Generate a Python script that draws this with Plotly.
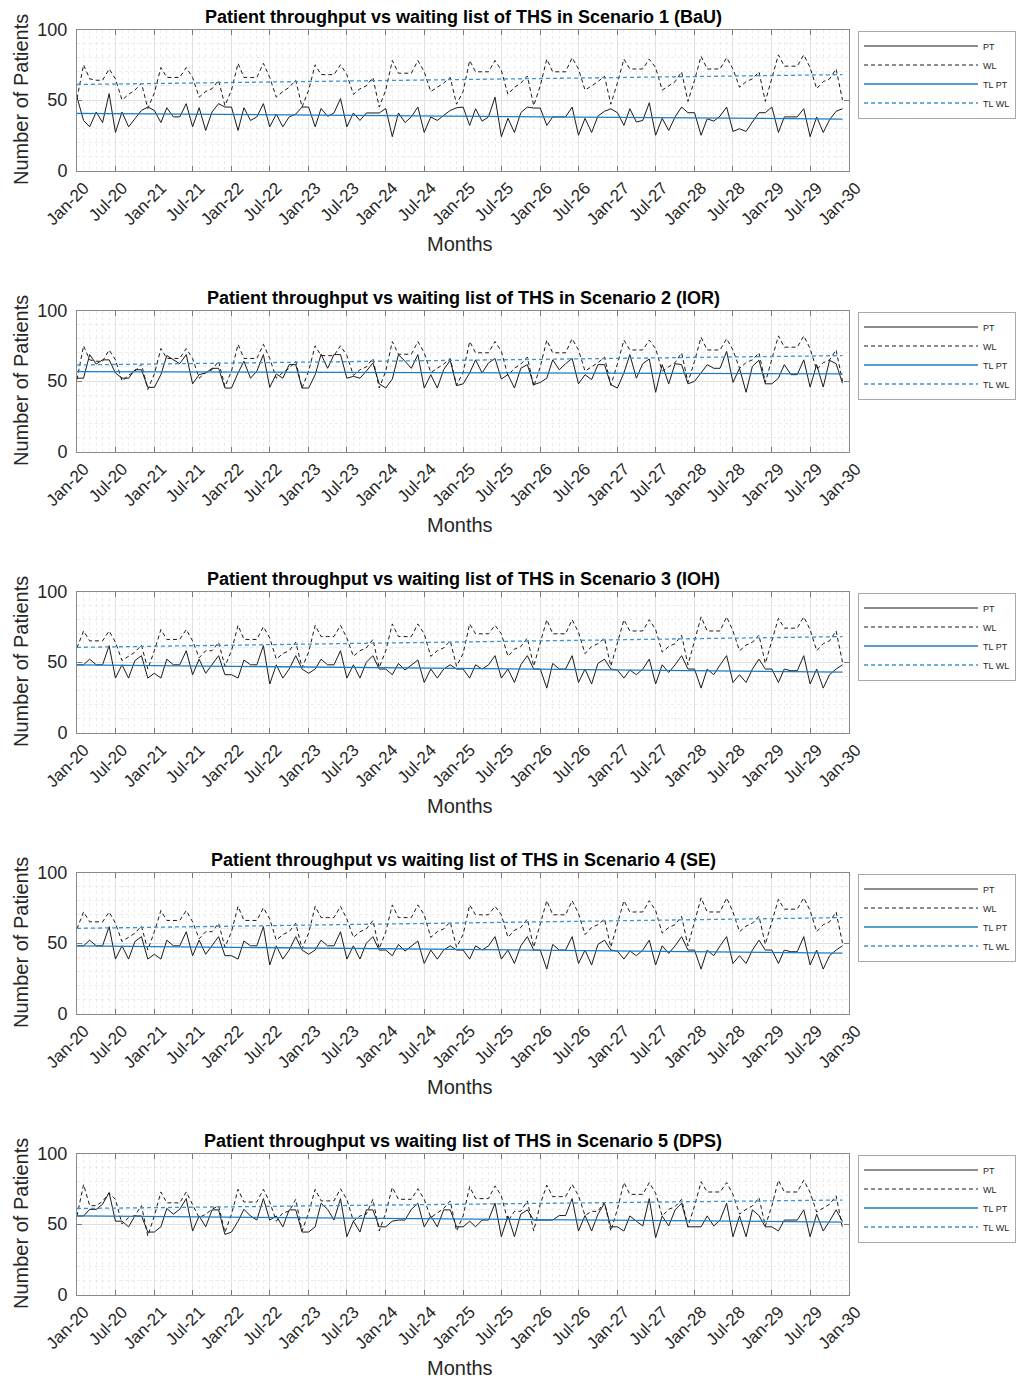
import plotly.graph_objects as go
import pandas as pd

# ---------------- data ----------------
MONTHS = pd.date_range("2020-01-01", periods=120, freq="MS")

SCENARIO_TITLES = [
    "Patient throughput vs waiting list of THS in Scenario 1 (BaU)",
    "Patient throughput vs waiting list of THS in Scenario 2 (IOR)",
    "Patient throughput vs waiting list of THS in Scenario 3 (IOH)",
    "Patient throughput vs waiting list of THS in Scenario 4 (SE)",
    "Patient throughput vs waiting list of THS in Scenario 5 (DPS)",
]

PT_S1 = [52, 35.5, 31, 41.5, 34, 54.5, 27, 41.5, 31, 37, 42.6, 45,
         42.6, 34, 44.5, 38, 38, 47.4, 31, 44.5, 28.4, 41.5, 47.4, 45,
         45, 28.4, 44.5, 35.5, 38, 47.4, 31, 40, 31, 38, 40, 45,
         45, 31, 44, 38.4, 40.8, 51, 31, 40.8, 35.5, 40.8, 40.8, 40.8,
         44, 24, 40.8, 34, 38, 45, 27, 38, 35.5, 39, 42.6, 44.5,
         45, 32, 43.8, 35, 38, 52, 24, 37, 27, 41, 45, 44.3,
         44.3, 32, 38, 38, 38, 45, 25, 37, 27, 38.6, 42, 43.8,
         41, 32, 43.8, 34.4, 35.5, 48, 25, 37, 28.4, 38, 45, 41,
         41, 25, 36.7, 35, 38.6, 45, 27.7, 29.6, 27.7, 34.4, 41, 41,
         45, 27, 38, 38, 38, 43.8, 24, 38, 27, 36, 42, 43.8]

PT_S2 = [52, 52, 68.7, 62, 65, 65, 55.7, 52, 52, 58, 58, 45.5,
         45.5, 54.5, 68, 65, 62.3, 68.7, 48, 54.5, 55.7, 59, 59, 45,
         45, 55.7, 64, 52, 57, 68.7, 45.5, 55, 52, 61.6, 61.6, 45,
         45, 54.5, 69, 59, 68.7, 68.7, 52, 53.3, 52, 57, 62.8, 48,
         45, 51.4, 68.7, 64, 59, 68.7, 45, 54.5, 45, 58, 64.7, 46.7,
         48, 55.7, 65, 55.7, 62.8, 66, 51.4, 54.5, 45, 59, 61.6, 47.4,
         49, 52, 65, 58, 62.3, 66, 48, 54.5, 51, 61.6, 61.6, 47.4,
         45, 55.7, 68.7, 52, 62.3, 65.6, 42, 61.6, 48, 62.3, 61.6, 48,
         49.8, 55.7, 61.6, 59, 59, 71, 49, 59, 42, 60.4, 64.7, 48,
         48, 52, 61.6, 54.5, 54.5, 65, 45.7, 61.6, 45.7, 64.7, 62.3, 48.6]

PT_S3 = [48, 48, 52, 48, 48, 61.6, 38.6, 48, 38.6, 51, 54.5, 38.6,
         42, 38.6, 52, 48, 48, 58, 41, 52, 42, 48, 54.5, 41,
         41, 38.6, 51.4, 48, 48, 61.6, 34.4, 48, 38.6, 45, 54.5, 45,
         42, 45, 52, 48, 48, 58, 38.6, 48, 38.6, 49.8, 54.5, 45,
         45, 41, 49, 44.3, 48, 51.4, 35.5, 45, 38.6, 45, 48, 45,
         45, 38.6, 48, 45, 48, 54.5, 38.6, 45, 35.5, 48, 54.5, 45,
         45, 31.5, 49, 45, 45, 54.5, 35.5, 45, 34.4, 49, 52, 45,
         44.3, 38.6, 44.3, 41, 45, 52, 34.4, 48, 42.6, 48, 54.5, 45,
         45, 31.5, 45, 41, 48, 54.5, 35.5, 41, 35.5, 45, 52, 45,
         45, 35.5, 45, 43.8, 43.8, 54.5, 34.4, 45, 31.5, 41, 45, 48]

PT_S4 = PT_S3

PT_S5 = [55.7, 55.7, 60.4, 60.4, 64, 72.3, 52, 52, 48, 55.7, 55.7, 44.3,
         44.3, 48, 61, 57, 60.4, 68, 45, 55.7, 48, 60, 60, 42.6,
         44.3, 52, 60.4, 55.7, 52.8, 68, 52.8, 55.7, 48, 60, 60, 44.3,
         44.3, 48, 64.7, 60.4, 52.8, 68, 41, 52, 44.3, 60, 60, 48,
         48, 52, 52.8, 52.8, 60.4, 64.7, 48, 55.7, 48, 60, 60, 48,
         48, 52, 48, 52.8, 52.8, 64.7, 41, 55.7, 41, 57, 60, 52.8,
         52.8, 52.8, 52.8, 56, 56, 68, 45, 56, 45, 57, 64.7, 48,
         48, 45, 55.7, 52, 48.6, 68, 40.3, 55.7, 48.6, 60, 64.7, 48,
         48, 48, 55.7, 48.6, 52.8, 64.7, 41, 55.7, 41, 60, 56, 48,
         48, 45, 52.8, 52.8, 52.8, 60, 41, 57, 45, 52, 60, 52]

WL_S1 = [51, 75, 65, 64, 64, 72, 65, 50, 54, 57, 62, 44,
         55, 73, 66, 66, 66, 73, 66, 52, 56, 58, 64, 46,
         57, 76, 66, 66, 66, 76, 66, 52, 56, 59, 64, 45,
         57, 75, 68, 68, 68, 75, 68, 54, 58, 60, 66, 45,
         57, 78, 69, 69, 69, 78, 70, 56, 59, 62, 66, 47,
         56, 78, 70, 70, 70, 78, 71, 54, 59, 62, 67, 46,
         60, 79, 70, 70, 70, 80, 72, 57, 60, 63, 67, 47,
         62, 79, 72, 72, 72, 79, 73, 57, 60, 63, 70, 49,
         64, 81, 72, 72, 72, 80, 72, 59, 63, 65, 70, 49,
         65, 82, 74, 74, 74, 82, 73, 58, 63, 65, 72, 50]

WL_S2 = WL_S1

WL_S3 = [60, 72, 65, 65, 65, 72, 64, 51, 54, 57, 62, 45,
         58, 73, 66, 66, 66, 73, 65, 53, 58, 58, 64, 47,
         58, 76, 66, 66, 66, 75, 67, 52, 56, 58, 64, 46,
         57, 76, 68, 68, 68, 76, 67, 54, 58, 60, 66, 46,
         58, 77, 68, 68, 68, 77, 70, 54, 58, 60, 65, 47,
         56, 77, 70, 70, 70, 76, 70, 54, 59, 61, 67, 47,
         64, 80, 70, 70, 70, 80, 71, 56, 61, 63, 67, 47,
         64, 80, 72, 72, 72, 80, 73, 57, 61, 63, 69, 48,
         65, 82, 72, 72, 72, 82, 72, 58, 62, 64, 69, 49,
         65, 81, 74, 74, 74, 82, 73, 58, 63, 65, 72, 50]

WL_S4 = WL_S3

WL_S5 = [55.7, 78, 63, 63, 66, 72, 67.5, 50, 54.5, 56, 63, 41.5,
         55.7, 72.7, 65, 65, 65, 72.7, 64, 54.5, 57, 60.4, 63, 44,
         57, 74.6, 65.6, 65.6, 65.6, 74.6, 65.6, 52, 58, 59, 67.5, 45,
         58, 74.6, 66.4, 66.4, 66.4, 75, 67.5, 52, 55.7, 57, 67.5, 45,
         58, 76, 67.5, 67.5, 67.5, 75, 67.5, 54.5, 58, 61, 66.4, 45,
         55.7, 76.5, 68, 68, 68, 77, 70, 52, 59, 59, 66.4, 45,
         64, 77.5, 69.4, 69.4, 69.4, 78, 70, 56, 59, 59, 65.6, 45,
         60.4, 79.4, 71, 71, 71, 79.4, 71.8, 55.7, 60.4, 62.3, 67.5, 48,
         62.8, 80, 72.7, 72.7, 72.7, 79.4, 71, 57, 60.4, 62.8, 68.7, 48.6,
         62.8, 81, 72.7, 72.7, 72.7, 81, 72.3, 58.5, 61, 64, 70, 47.4]

# trend-line end values (first month, last month)
TL_PT = [(40.5, 36.5), (56.6, 55.0), (48.0, 42.8), (48.0, 42.8), (55.7, 51.4)]
TL_WL = [(61.0, 68.0), (61.4, 68.0), (60.4, 68.0), (60.4, 68.0), (61.0, 67.0)]

PT_ALL = [PT_S1, PT_S2, PT_S3, PT_S4, PT_S5]
WL_ALL = [WL_S1, WL_S2, WL_S3, WL_S4, WL_S5]

Y_TICKS = [0, 50, 100]

# ---------------- layout constants ----------------
W, H = 1026, 1379
OFF = 8  # page body margin: positions below are reference pixels minus this
PL, PR = 77 - OFF, 849 - OFF
TOP0, BOT0, STEP = 29.5 - OFF, 170.5 - OFF, 281
FONT = "Arial, Liberation Sans, Helvetica, sans-serif"
TXT = "#262626"
BLUE = "#1f7cc2"
LBLUE = "#3b93d0"

fig = go.Figure()
annotations = []
tl_x = [MONTHS[0], MONTHS[-1]]

for i in range(5):
    k = i + 1
    sfx = "" if k == 1 else str(k)
    xname, yname, leg = "x" + sfx, "y" + sfx, "legend" + sfx
    top_px = TOP0 + STEP * i
    bot_px = BOT0 + STEP * i
    y0 = 1 - bot_px / H
    y1 = 1 - top_px / H

    fig.add_trace(go.Scatter(x=MONTHS, y=PT_ALL[i], mode="lines", name="PT",
                             line=dict(color="#1a1a1a", width=1),
                             xaxis=xname, yaxis=yname, legend=leg))
    fig.add_trace(go.Scatter(x=MONTHS, y=WL_ALL[i], mode="lines", name="WL",
                             line=dict(color="#1a1a1a", width=1, dash="4px,3px"),
                             xaxis=xname, yaxis=yname, legend=leg))
    fig.add_trace(go.Scatter(x=tl_x, y=list(TL_PT[i]), mode="lines", name="TL PT",
                             line=dict(color=BLUE, width=1.3),
                             xaxis=xname, yaxis=yname, legend=leg))
    fig.add_trace(go.Scatter(x=tl_x, y=list(TL_WL[i]), mode="lines", name="TL WL",
                             line=dict(color=LBLUE, width=1.3, dash="4px,3px"),
                             xaxis=xname, yaxis=yname, legend=leg))

    fig.update_layout(**{
        "xaxis" + sfx: dict(
            domain=[PL / W, PR / W], anchor=yname, type="date", automargin=False,
            range=["2020-01-01", "2030-01-01"],
            tick0="2020-01-01", dtick="M6", tickformat="%b-%y", tickangle=-45,
            ticklabelshift=7,
            ticks="inside", ticklen=5, tickcolor="#7a7a7a",
            showline=True, linecolor="#8a8a8a", linewidth=1, mirror="allticks",
            showgrid=True, gridcolor="#e1e1e1", gridwidth=1, zeroline=False,
            minor=dict(dtick="M1", showgrid=True, gridcolor="#ececec",
                       griddash="dot", gridwidth=1),
            tickfont=dict(family=FONT, size=17, color=TXT),
            fixedrange=True,
        ),
        "yaxis" + sfx: dict(
            domain=[y0, y1], anchor=xname, range=[0, 100], automargin=False,
            tickvals=Y_TICKS, ticks="inside", ticklen=5, tickcolor="#7a7a7a",
            ticklabelstandoff=5,
            showline=True, linecolor="#8a8a8a", linewidth=1, mirror="allticks",
            showgrid=True, gridcolor="#e1e1e1", gridwidth=1, zeroline=False,
            minor=dict(dtick=10, showgrid=True, gridcolor="#ececec",
                       griddash="dot", gridwidth=1),
            tickfont=dict(family=FONT, size=18, color=TXT),
            fixedrange=True,
        ),
        leg: dict(
            x=(858 - OFF) / W, xanchor="left", y=1 - (30.5 - OFF + STEP * i) / H,
            yanchor="top",
            bgcolor="white", bordercolor="#a8a8a8", borderwidth=1,
            font=dict(family=FONT, size=9, color=TXT),
            itemwidth=114, tracegroupgap=0,
        ),
    })

    annotations.append(dict(
        text="<b>" + SCENARIO_TITLES[i] + "</b>", xref="paper", yref="paper",
        x=(PL + PR) / 2 / W, y=1 - (17 - OFF + STEP * i) / H,
        xanchor="center", yanchor="middle",
        showarrow=False, font=dict(family=FONT, size=18, color="#000000")))
    annotations.append(dict(
        text="Number of Patients", xref="paper", yref="paper",
        x=(21 - OFF) / W, y=1 - (100 - OFF + STEP * i) / H,
        xanchor="center", yanchor="middle",
        textangle=-90, showarrow=False, font=dict(family=FONT, size=20, color=TXT)))
    annotations.append(dict(
        text="Months", xref="paper", yref="paper",
        x=(460 - OFF) / W, y=1 - (244 - OFF + STEP * i) / H,
        xanchor="center", yanchor="middle",
        showarrow=False, font=dict(family=FONT, size=20, color=TXT)))

fig.update_layout(
    width=W, height=H,
    margin=dict(l=0, r=0, t=0, b=0, autoexpand=False),
    paper_bgcolor="white", plot_bgcolor="white",
    annotations=annotations,
    font=dict(family=FONT, color=TXT),
)

fig.write_html("out.html")
